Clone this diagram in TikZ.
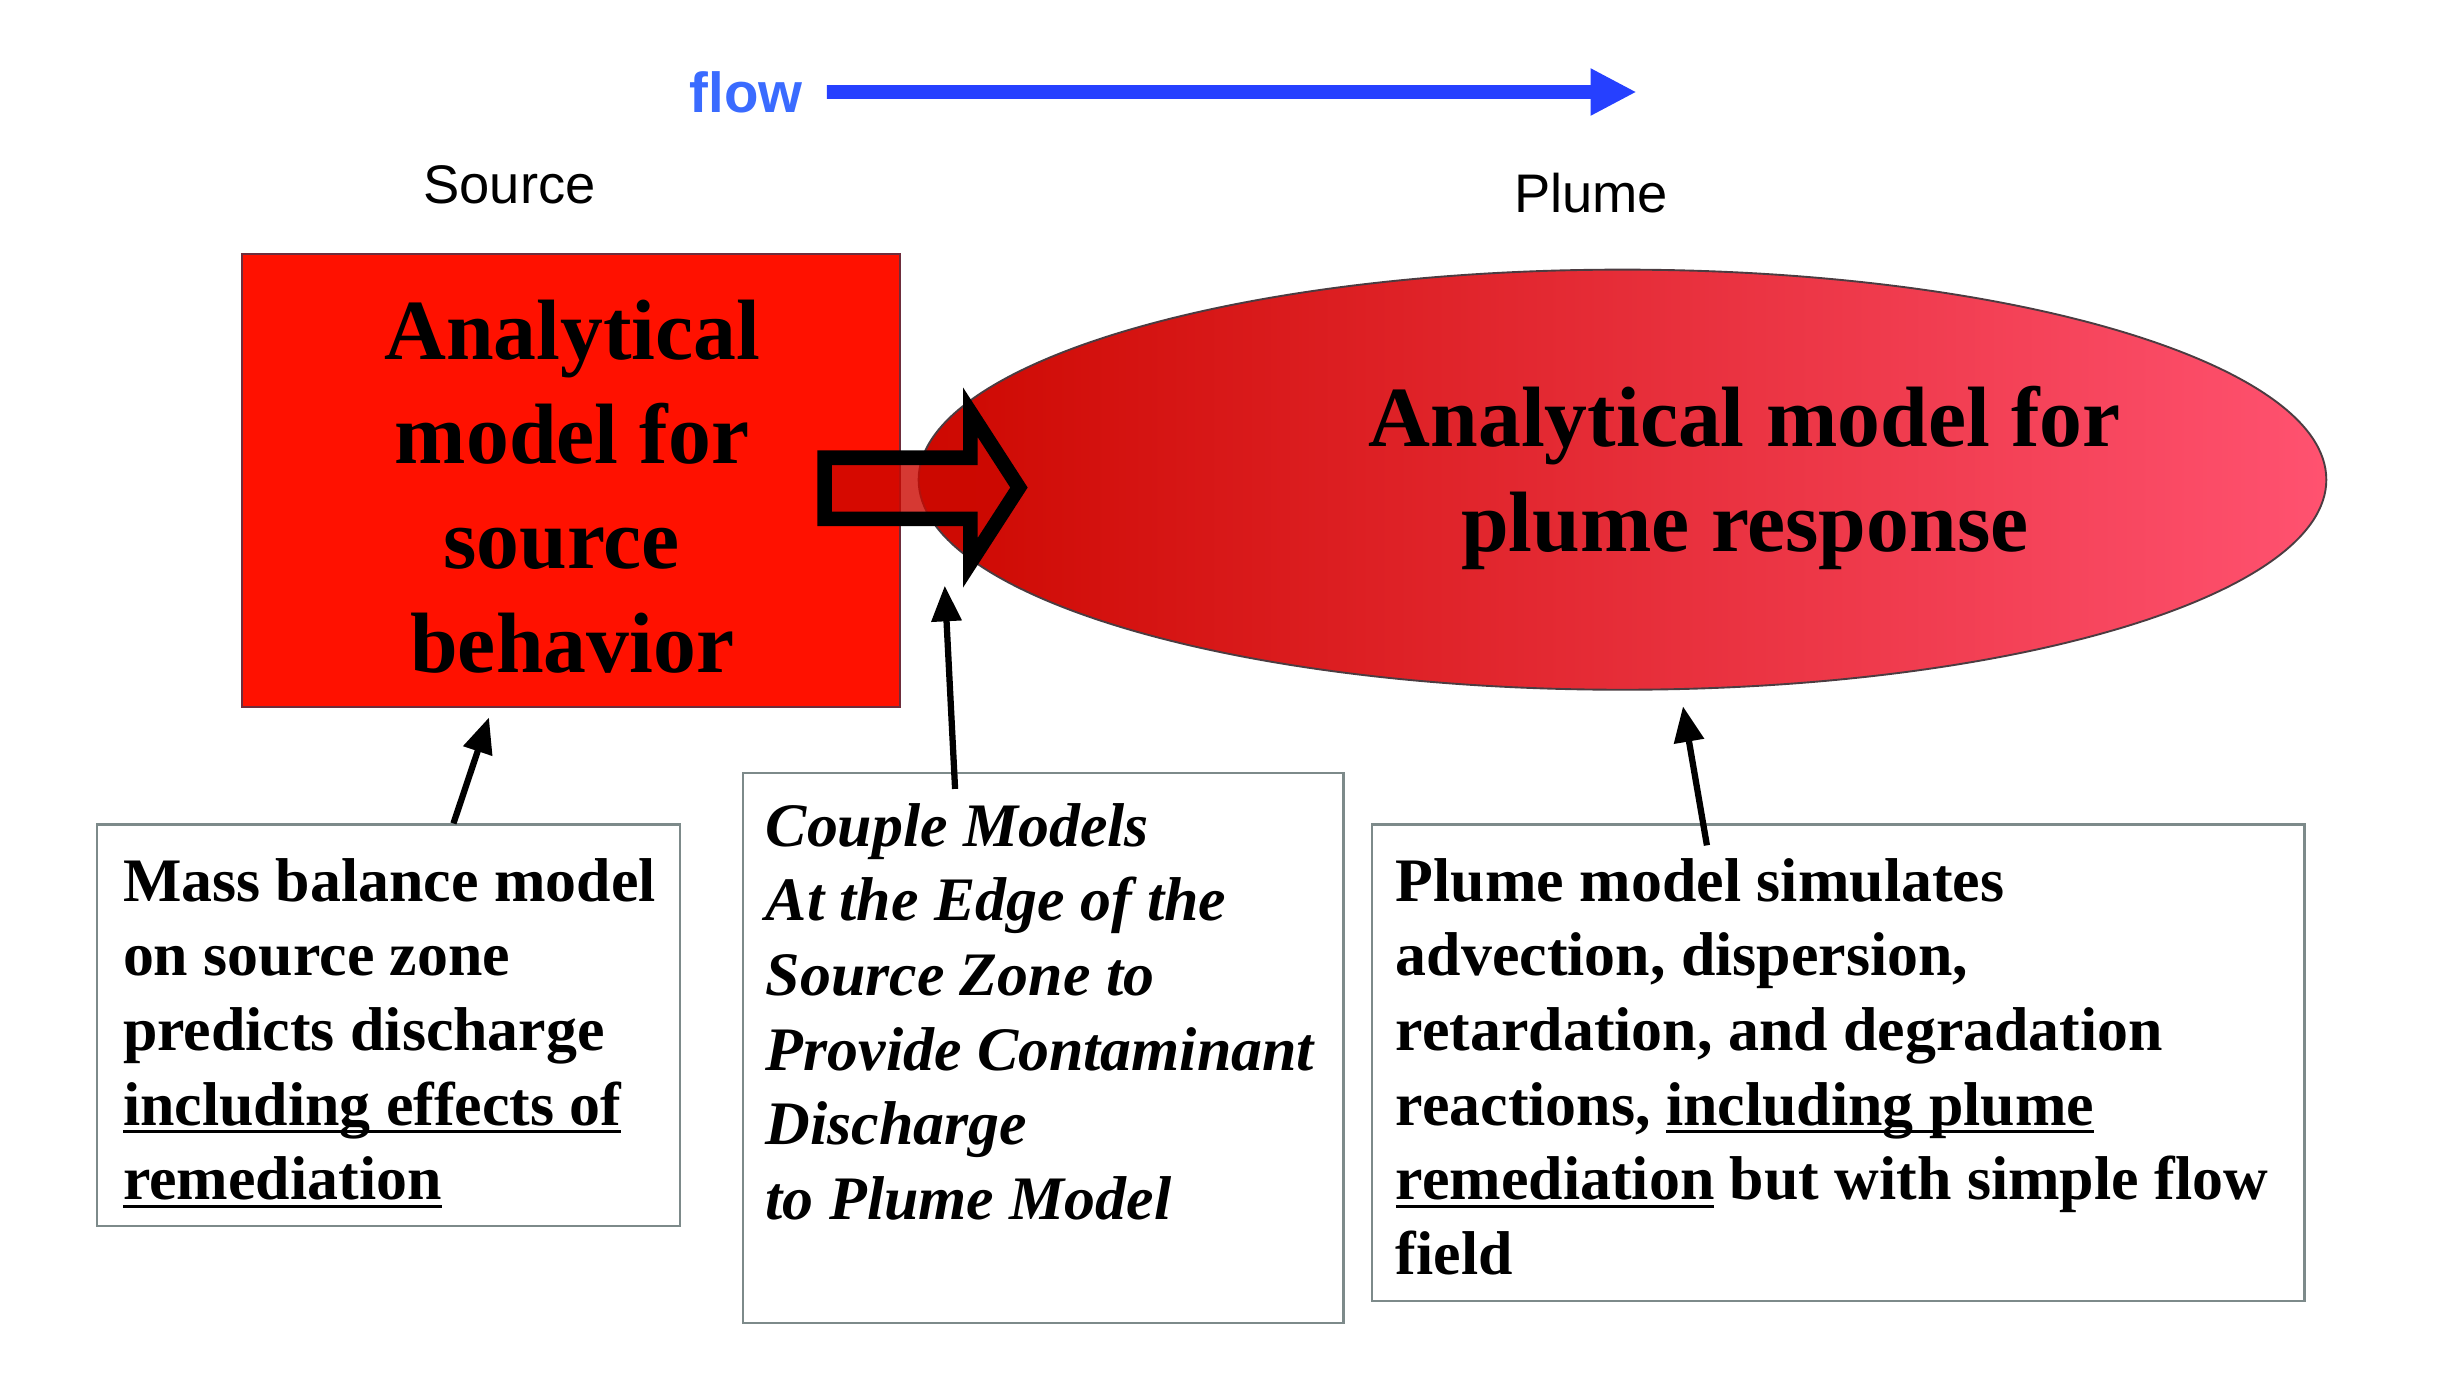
\documentclass[tikz,border=0pt]{standalone}
\usepackage{fontspec}
\setmainfont{Liberation Serif}
\newfontfamily\arialfont{Liberation Sans}
\usetikzlibrary{shapes.geometric,arrows.meta,calc}

\newsavebox{\ulbox}
\newcommand{\ulined}[1]{\sbox{\ulbox}{#1}\rlap{\rule[-4pt]{\wd\ulbox}{1.4pt}}\usebox{\ulbox}}

\definecolor{flowtext}{RGB}{58,107,255}
\definecolor{flowline}{RGB}{38,64,255}
\definecolor{sourcered}{RGB}{255,17,0}
\definecolor{sourceedge}{RGB}{110,45,60}
\definecolor{plumeleft}{RGB}{205,8,0}
\definecolor{plumeright}{RGB}{255,82,112}
\definecolor{plumeedge}{RGB}{75,60,65}
\definecolor{couplered}{RGB}{204,8,0}
\definecolor{boxgray}{RGB}{125,138,138}

\tikzset{every picture/.style={line width=0.75pt}}
\tikzset{
  flowlabel/.style={inner sep=0.75pt, text=flowtext, font=\fontsize{27}{32}\selectfont\arialfont\bfseries},
  flowarrow/.style={-{Triangle[length=22pt,width=21pt]}, line width=6.5pt, draw=flowline},
  zonelabel/.style={inner sep=0.75pt, font=\fontsize{26}{30}\selectfont\arialfont},
  srcbox/.style={draw=sourceedge, line width=1pt, fill=sourcered, minimum width=314.7pt, minimum height=216.75pt, inner sep=0pt},
  plumeoval/.style={ellipse, draw=plumeedge, line width=0.9pt, left color=plumeleft, right color=plumeright,
    minimum width=673.5pt, minimum height=201pt, inner sep=0pt},
  bigtext/.style={inner sep=0pt, align=center, font=\fontsize{41}{50}\selectfont\bfseries},
  couplearrow/.style={draw=black, line width=7pt, fill=couplered, fill opacity=0.8, line join=miter},
  infobox/.style={draw=boxgray, line width=1.1pt, fill=white, inner sep=0pt},
  infotext/.style={inner sep=0pt, align=left, anchor=north west, font=\fontsize{29.6}{35.7}\selectfont\bfseries},
  pointer/.style={-{Triangle[length=17pt,width=14pt]}, line width=3pt, draw=black}
}

\begin{document}
\begin{tikzpicture}[x=0.75pt,y=0.75pt,yscale=-1,xscale=1]
	\useasboundingbox (0,0) rectangle (1568,891);
	
	% Text Node
	\node [flowlabel] (flowlabel) at (476,59) {flow};
	\coordinate (flowend) at (1044,58.7);
	%Straight Lines
	\draw [flowarrow] ($(flowlabel.east)+(14,-0.3)$) -- (flowend);
	
	% Text Node
	\node [zonelabel] (sourcelabel) at (325,118) {Source};
	% Text Node
	\node [zonelabel] (plumelabel) at (1015,123) {Plume};
	
	%Shape: Rectangle
	\node [srcbox] (srcbox) at (364.2,306.5) {};
	% Text Node
	\node [bigtext] (srctext) at (365,310.5) {Analytical\\model for\\source\kern10pt\\behavior};
	%Shape: Ellipse
	\node [plumeoval] (plumeoval) at (1035,306) {};
	% Text Node
	\node [bigtext] (plumetext) at (1113,305) {Analytical model for\\plume response};
	
	%Shape: Right Arrow
	\draw [couplearrow] (526,292) -- (619,292) -- (619,263) -- (650,311) -- (619,359) -- (619,331) -- (526,331) -- cycle;
	
	%Shape: Rectangle
	\node [infobox, minimum width=279pt, minimum height=192pt] (massbox) at (248,654) {};
	% Text Node
	\node [infotext] (masstext) at (78,547) {Mass balance model\\on source zone\\predicts discharge\\\ulined{including effects of}\\\ulined{remediation}};
	
	%Shape: Rectangle
	\node [infobox, minimum width=287.25pt, minimum height=263.25pt] (couplebox) at (665.5,668.5) {};
	% Text Node
	\node [infotext, font=\fontsize{29.6}{35.7}\selectfont\bfseries\itshape] (coupletext) at (488,512) {Couple Models\\At the Edge of the\\Source Zone to\\Provide Contaminant\\Discharge\\to Plume Model};
	
	%Shape: Rectangle
	\node [infobox, minimum width=446.25pt, minimum height=228pt] (plumebox) at (1172.5,678) {};
	% Text Node
	\node [infotext] (plumeboxtext) at (890,547) {Plume model simulates\\advection, dispersion,\\retardation, and degradation\\reactions, \ulined{including plume}\\\ulined{remediation} but with simple flow\\field};
	
	%Straight Lines
	\draw [pointer] ($(massbox.north west)+(228,0)$) -- ($(srcbox.south west)+(158.2,6)$);
	%Straight Lines
	\draw [pointer] ($(couplebox.north west)+(136,11)$) -- ($(srcbox.south east)+(28,-78)$);
	%Straight Lines
	\draw [pointer] ($(plumebox.north west)+(214.6,14)$) -- ($(plumeoval.south)+(38.6,10)$);
	
\end{tikzpicture}
\end{document}
